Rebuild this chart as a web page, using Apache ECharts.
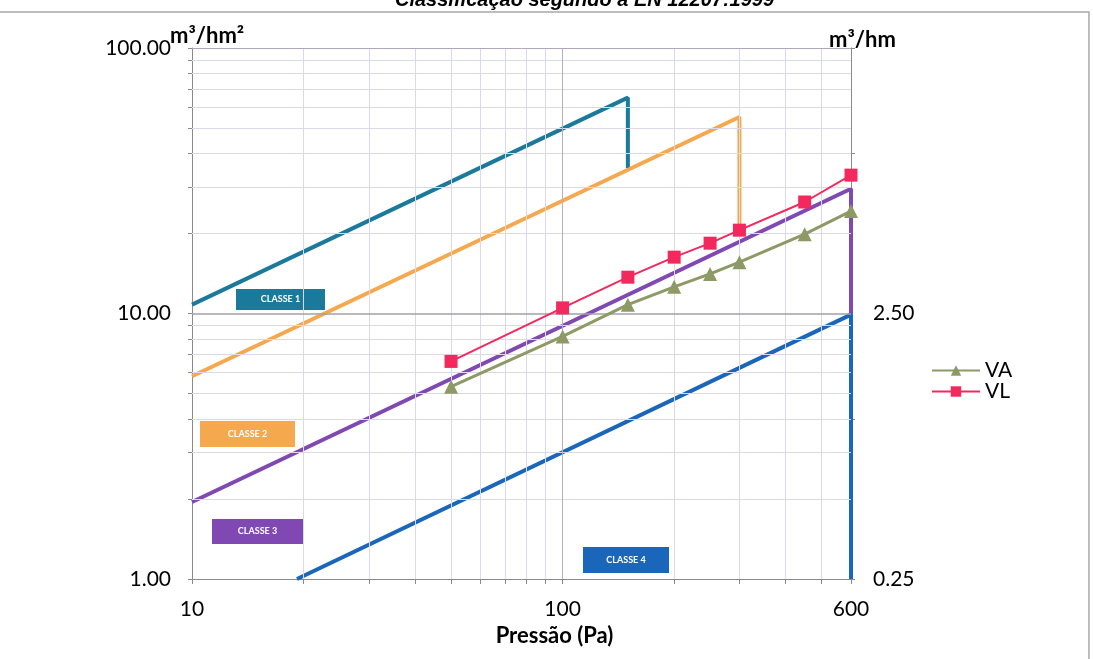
<!DOCTYPE html>
<html>
<head>
<meta charset="utf-8">
<script src="https://cdn.jsdelivr.net/npm/echarts@6/dist/echarts.min.js"></script>
<style>html,body{margin:0;padding:0;background:#fff}#c{width:1093px;height:659px}</style>
</head>
<body>
<div id="c"></div>
<script>
// Data
const pressure = [50, 100, 150, 200, 250, 300, 450, 600];
const va = [5.3, 8.2, 10.8, 12.6, 14.1, 15.6, 19.9, 24.3];
const vl = [6.6, 10.5, 13.7, 16.3, 18.4, 20.6, 26.3, 33.2];
const classe1 = [[10, 10.8], [150, 65], [150, 35.3]];
const classe2 = [[10, 5.8], [300, 55], [300, 20.5]];
const classe3 = [[10, 1.95], [600, 29.5], [600, 9.9]];
const classe4 = [[19.2, 1], [600, 9.9], [600, 1]];
const xLabels = [10, 100, 600];
const xMinor = [20, 30, 40, 50, 60, 70, 80, 90, 200, 300, 400, 500];
const yMinor = [2, 3, 4, 5, 6, 7, 8, 9, 20, 30, 40, 50, 60, 70, 80, 90];
const yLabels = [1, 10, 100];
const y2Labels = [0.25, 2.5];
const classNames = ['CLASSE 1', 'CLASSE 2', 'CLASSE 3', 'CLASSE 4'];

const FONT = 'Lato, "Open Sans", sans-serif';
const chart = echarts.init(document.getElementById('c'), null, {renderer: 'canvas'});

const classColors = ['#1b7a9b', '#f6a84e', '#7f48b2', '#1a66ba'];
function classSeries(name, data, color) {
  return {name: name, type: 'line', data: data, symbol: 'none', z: 2,
    lineStyle: {color: color, width: 4}, itemStyle: {color: color}};
}
function box(x, y, w, h, color, txt) {
  return {type: 'group', children: [
    {type: 'rect', shape: {x: x, y: y, width: w, height: h}, style: {fill: color}},
    {type: 'text', x: x + w / 2, y: y + h / 2, style: {text: txt, fill: '#fff', font: 'bold 9px ' + FONT, align: 'center', verticalAlign: 'middle'}}
  ]};
}

const option = {
  animation: false,
  title: {text: 'Classificação segundo a EN 12207:1999', left: 390, top: -15,
    textStyle: {fontSize: 20, fontWeight: 'bold', fontStyle: 'italic', color: '#000', fontFamily: 'Arial, sans-serif'}},
  grid: {left: 192, right: 242, top: 48, bottom: 80},
  legend: {
    data: ['VA', 'VL'], orient: 'vertical', left: 926, top: 355, itemWidth: 48, itemHeight: 13, itemGap: 0,
    textStyle: {fontSize: 21, color: '#000', fontFamily: FONT}
  },
  xAxis: {
    type: 'log', logBase: 10, min: 10, max: 600,
    name: 'Pressão (Pa)', nameLocation: 'middle', nameGap: 42,
    nameTextStyle: {fontSize: 22, fontWeight: 'bold', color: '#000', fontFamily: FONT, padding: [0, 0, 0, 66]},
    axisLine: {lineStyle: {color: '#8a8a8a', width: 1}},
    axisTick: {show: true, inside: false, length: 5, lineStyle: {color: '#8a8a8a'}, customValues: xLabels.concat(xMinor)},
    axisLabel: {customValues: xLabels, fontSize: 21, color: '#000', margin: 20, fontFamily: FONT, formatter: v => String(Math.round(v))},
    splitLine: {show: false}, minorTick: {show: false}
  },
  yAxis: [{
    type: 'log', logBase: 10, min: 1, max: 100,
    name: 'm³/hm²', nameLocation: 'end', nameGap: 12, nameMoveOverlap: false,
    nameTextStyle: {fontSize: 22, fontWeight: 'bold', color: '#000', fontFamily: FONT, align: 'left', verticalAlign: 'middle', padding: [0, 0, 0, -22]},
    axisLine: {show: true, lineStyle: {color: '#8a8a8a'}},
    axisTick: {show: true, length: 4, lineStyle: {color: '#8a8a8a'}, customValues: yLabels.concat(yMinor)},
    axisLabel: {customValues: yLabels, fontSize: 21, color: '#000', margin: 21, fontFamily: FONT, formatter: v => v.toFixed(2)},
    splitLine: {show: false}
  }, {
    type: 'log', logBase: 10, min: 0.25, max: 25, position: 'right',
    name: 'm³/hm', nameLocation: 'end', nameGap: 8, nameMoveOverlap: false,
    nameTextStyle: {fontSize: 22, fontWeight: 'bold', color: '#000', fontFamily: FONT, align: 'left', verticalAlign: 'middle', padding: [0, 0, 0, -22]},
    axisLine: {show: true, lineStyle: {color: '#8a8a8a'}},
    axisTick: {show: true, length: 4, lineStyle: {color: '#8a8a8a'}},
    axisLabel: {customValues: y2Labels, fontSize: 21, color: '#000', margin: 22, fontFamily: FONT, formatter: v => v.toFixed(2)},
    splitLine: {show: false}
  }],
  graphic: [
    {type: 'rect', shape: {x: -5, y: 12, width: 1094, height: 700}, style: {fill: 'none', stroke: '#a8a8a8', lineWidth: 1.5}, z: -10},
    box(236, 289, 89, 21, classColors[0], classNames[0]),
    box(200, 421, 95, 26, classColors[1], classNames[1]),
    box(212, 519, 91, 25, classColors[2], classNames[2]),
    box(583, 547, 86, 26, classColors[3], classNames[3])
  ],
  series: [
    {name: 'grid', type: 'line', data: [], z: 0, silent: true,
      markLine: {silent: true, symbol: ['none', 'none'], label: {show: false}, animation: false,
        lineStyle: {color: '#dcd8e6', width: 1, type: 'solid'},
        data: xMinor.map(v => ({xAxis: v})).concat(yMinor.map(v => ({yAxis: v})))
          .concat([{xAxis: 100, lineStyle: {color: '#b4b0c2'}}, {yAxis: 10, lineStyle: {color: '#a0a0a8', width: 1.5}}, {yAxis: 100, lineStyle: {color: '#b0a8b8'}}])
      }},
    classSeries('Classe 1', classe1, classColors[0]),
    classSeries('Classe 2', classe2, classColors[1]),
    classSeries('Classe 3', classe3, classColors[2]),
    classSeries('Classe 4', classe4, classColors[3]),
    {name: 'VA', type: 'line', data: pressure.map((p, i) => [p, va[i]]), symbol: 'triangle', symbolSize: 14, z: 5,
      lineStyle: {color: '#8d9a66', width: 3}, itemStyle: {color: '#8d9a66'}},
    {name: 'VL', type: 'line', data: pressure.map((p, i) => [p, vl[i]]), symbol: 'rect', symbolSize: 13, z: 6,
      lineStyle: {color: '#f3285c', width: 2}, itemStyle: {color: '#f3285c'}}
  ]
};
chart.setOption(option);
</script>
</body>
</html>
